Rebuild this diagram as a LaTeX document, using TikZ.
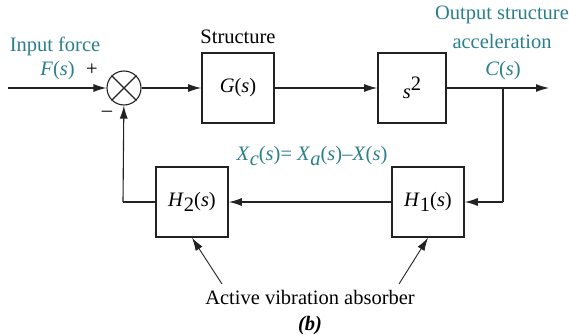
\documentclass[tikz,border=0pt]{standalone}
\usepackage{fontspec}
\setmainfont{Liberation Serif}
\usetikzlibrary{arrows.meta}
\definecolor{fbTeal}{HTML}{2A7F8A}
\definecolor{fbLine}{HTML}{222222}

\newcommand{\iv}[1]{\textit{#1}}

\begin{document}
\begin{tikzpicture}[x=1pt, y=-1pt,
  font=\fontsize{20.5}{24}\selectfont,
  block/.style={draw=fbLine, line width=1.6pt, minimum width=72pt, minimum height=70pt, inner sep=0pt},
  sumnode/.style={draw=fbLine, circle, line width=1.1pt, minimum size=34pt, inner sep=0pt},
  sig/.style={draw=fbLine, line width=1.1pt, -{Latex[length=13pt, width=8pt]}},
  wire/.style={draw=fbLine, line width=1.1pt},
  lbl/.style={text=fbTeal, inner sep=0pt}]

\useasboundingbox (0,0) rectangle (569,334);

% --- FORWARD PATH ---
\coordinate (in) at (8,88);
\node[sumnode] (sum) at (124,88) {};
\draw[wire] (sum.45) -- (sum.225) (sum.135) -- (sum.315);
\node[block] (G) at (238,88) {\iv{G}(\iv{s})};
\node[block, minimum width=68pt] (S2) at (412,88) {\iv{s}\raisebox{8pt}{2}};
\coordinate (br) at (503,88);
\coordinate (out) at (549,88);

\draw[sig] (in) -- (sum);
\draw[sig] (sum) -- (G);
\draw[sig] (G) -- (S2);
\draw[sig] (S2) -- (out);

% --- FEEDBACK PATH ---
\node[block] (H1) at (428,202) {\iv{H}\raisebox{-5pt}{1}(\iv{s})};
\node[block] (H2) at (192,202) {\iv{H}\raisebox{-5pt}{2}(\iv{s})};
\coordinate (fbr) at (503,202);
\coordinate (fbl) at (123,202);

\draw[wire] (br) -- (fbr);
\draw[sig] (fbr) -- (H1);
\draw[sig] (H1) -- (H2);
\draw[wire] (H2) -- (fbl);
\draw[sig] (fbl) -- (sum);

% --- LABELS ---
\node[lbl] (inlbl) at (55,46) {Input force};
\node[lbl, anchor=east] (Flbl) at (75,71) {\iv{F}(\iv{s})};
\node[inner sep=0pt] (plus) at (92,70) {+};
\node[inner sep=0pt] (minus) at (107,114) {\textendash};
\node[inner sep=0pt] (struct) at (238,37) {Structure};
\node[lbl] (outlbl1) at (502,15) {Output structure};
\node[lbl] (outlbl2) at (502,41) {acceleration};
\node[lbl] (Clbl) at (503,71) {\iv{C}(\iv{s})};
\node[lbl] (Xlbl) at (312,156)
  {\iv{X}\raisebox{-5pt}{\iv{c}}(\iv{s})= \iv{X}\raisebox{-5pt}{\iv{a}}(\iv{s})\textendash\iv{X}(\iv{s})};

% --- ABSORBER CALLOUT ---
\node[inner sep=0pt] (absorb) at (310,297) {Active vibration absorber};
\node[inner sep=0pt] (tag) at (310,326) {\textbf{\textit{(b)}}};
\coordinate (a2) at (222,284);
\coordinate (a1) at (399,284);
\draw[sig, line width=0.9pt] (a2) -- (H2.south);
\draw[sig, line width=0.9pt] (a1) -- (H1.south);

\end{tikzpicture}
\end{document}
